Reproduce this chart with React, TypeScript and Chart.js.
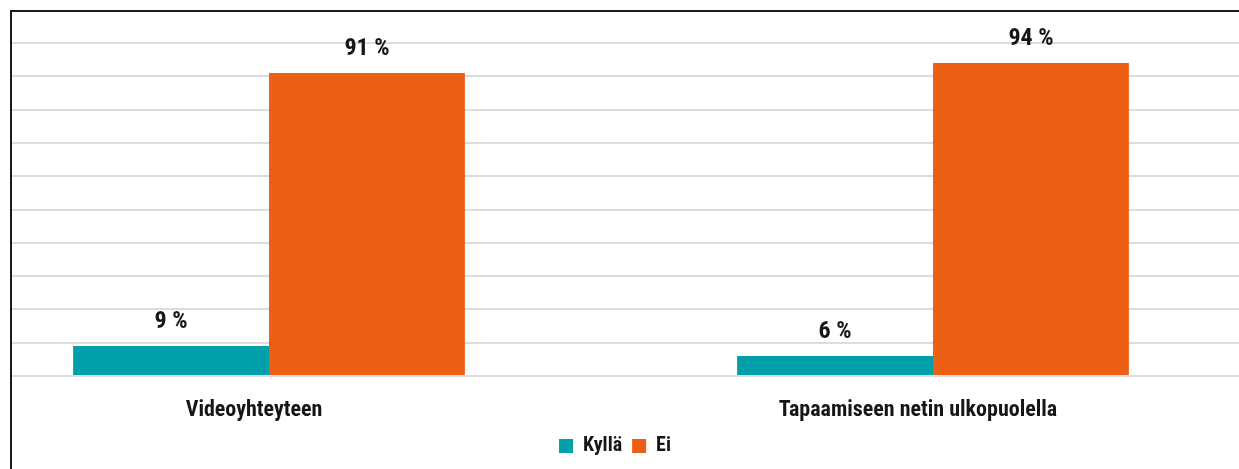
import React, { useEffect, useRef } from "react";
import { Chart, registerables } from "chart.js";

Chart.register(...registerables);

const categories = ["Videoyhteyteen", "Tapaamiseen netin ulkopuolella"];
const seriesNames = ["Kyllä", "Ei"];
const kyllaValues = [9, 6];
const eiValues = [91, 94];
const seriesColors = ["#009FA9", "#EC6016"];

const FONT = "'Roboto Condensed', 'Liberation Sans Narrow', Roboto, sans-serif";

const valueLabels = {
  id: "valueLabels",
  afterDatasetsDraw(chart: any) {
    const ctx = chart.ctx;
    ctx.save();
    ctx.font = `bold 24px ${FONT}`;
    ctx.fillStyle = "#161616";
    ctx.textAlign = "center";
    ctx.textBaseline = "alphabetic";
    chart.data.datasets.forEach((ds: any, i: number) => {
      const meta = chart.getDatasetMeta(i);
      meta.data.forEach((el: any, j: number) => {
        ctx.fillText(`${ds.data[j]} %`, el.x, el.y - 18);
      });
    });
    ctx.restore();
  },
};

const legendShift = {
  id: "legendShift",
  afterLayout(chart: any) {
    if (chart.legend) {
      chart.legend.left += 14;
      chart.legend.right += 14;
    }
  },
};

export default function App() {
  const ref = useRef<HTMLCanvasElement>(null);
  useEffect(() => {
    if (!ref.current) return;
    const chart = new Chart(ref.current, {
      type: "bar",
      data: {
        labels: categories,
        datasets: [
          { label: seriesNames[0], data: kyllaValues, backgroundColor: seriesColors[0], borderWidth: 0 },
          { label: seriesNames[1], data: eiValues, backgroundColor: seriesColors[1], borderWidth: 0 },
        ],
      },
      options: {
        responsive: false,
        animation: false,
        layout: { padding: { left: 37, right: 74, top: 43, bottom: 3 } },
        datasets: { bar: { categoryPercentage: 0.59, barPercentage: 1 } },
        scales: {
          x: {
            grid: { display: false, drawTicks: false },
            border: { display: false },
            ticks: {
              padding: 21,
              labelOffset: -15,
              color: "#161616",
              font: { family: FONT, size: 22, weight: "bold" },
            },
            afterFit(scale: any) {
              scale.height = 50;
            },
          },
          y: {
            min: 0,
            max: 100,
            ticks: { display: false, stepSize: 10 },
            grid: { color: "#dcdcdc", lineWidth: 2, drawTicks: false },
            border: { display: false },
            afterFit(scale: any) {
              scale.width = 0;
            },
          },
        },
        plugins: {
          legend: {
            position: "bottom",
            labels: {
              boxWidth: 14,
              boxHeight: 14,
              padding: 10,
              color: "#161616",
              font: { family: FONT, size: 20, weight: "bold" },
            },
          },
          tooltip: { enabled: false },
        },
      },
      plugins: [valueLabels, legendShift],
    });
    return () => chart.destroy();
  }, []);

  return (
    <div
      style={{
        position: "fixed",
        left: 0,
        top: 0,
        width: 1239,
        height: 469,
        overflow: "hidden",
        background: "#fff",
      }}
    >
      <div
        style={{
          position: "absolute",
          left: 10,
          top: 10,
          width: 1300,
          height: 520,
          borderLeft: "2px solid #1a1a1a",
          borderTop: "2px solid #1a1a1a",
          boxSizing: "border-box",
          overflow: "hidden",
        }}
      >
        <canvas
          ref={ref}
          width={1439}
          height={469}
          style={{ position: "absolute", left: -112, top: -12, width: 1439, height: 469 }}
        />
      </div>
    </div>
  );
}
